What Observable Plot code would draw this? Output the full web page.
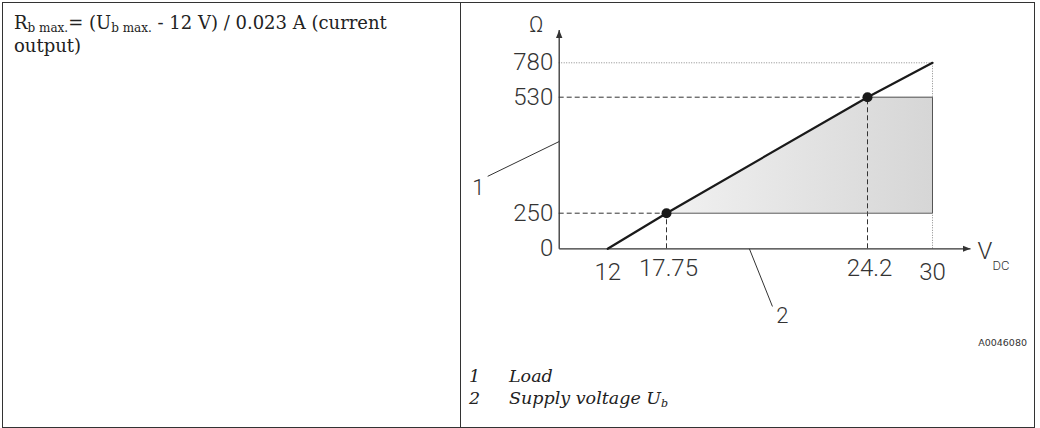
<!DOCTYPE html>
<html><head><meta charset="utf-8">
<script src="https://cdn.jsdelivr.net/npm/d3@7"></script>
<script src="https://cdn.jsdelivr.net/npm/@observablehq/plot@0.6"></script>
<style>
html,body{margin:0;padding:0;background:#fff;}
#page{position:relative;width:1040px;height:428px;overflow:hidden;background:#fff;}
#frame{position:absolute;left:2px;top:2px;width:1033px;height:426px;border:1px solid #333;box-sizing:border-box;}
#divider{position:absolute;left:460px;top:2px;width:1px;height:426px;background:#333;}
#formula{position:absolute;left:14px;top:11px;font-family:"DejaVu Serif";font-size:18px;line-height:23px;color:#222;}
#formula sub{font-size:12px;line-height:0;vertical-align:-3px;}
#chart{position:absolute;left:462px;top:0px;}
#code{position:absolute;right:13px;top:337px;font-family:"DejaVu Sans";font-size:9.5px;color:#333;}
.leg{position:absolute;font-family:"DejaVu Serif";font-style:italic;font-size:17.5px;color:#222;line-height:22px;}
.leg sub{font-size:11px;line-height:0;vertical-align:-3px;}
</style>
</head><body>
<div id="page">
  <div id="frame"></div>
  <div id="divider"></div>
  <div id="formula">R<sub>b max.</sub>= (U<sub>b max.</sub> - 12 V) / 0.023 A (current<br>output)</div>
  <div id="chart"></div>
  <div id="code">A0046080</div>
  <div class="leg" style="left:469px;top:365px;">1</div>
  <div class="leg" style="left:509px;top:365px;">Load</div>
  <div class="leg" style="left:469px;top:387px;">2</div>
  <div class="leg" style="left:509px;top:387px;">Supply voltage U<sub>b</sub></div>
</div>
<script>
// ---- data ----
const loadVoltage = [12, 17.75, 24.2, 30];        // V DC
const loadOhm     = [0, 250, 530, 780];           // Ω
const opVoltage   = [17.75, 24.2];                // marked operating points
const opOhm       = [250, 530];
const shadeVoltage = [17.75, 24.2, 30];
const shadeTopOhm  = [250, 530, 530];
const shadeBaseOhm = 250;
const maxVoltage = 30;
const maxOhm = 780;
const xTicksLow  = [12, 30];
const xTicksHigh = [17.75, 24.2];
const yTicks     = [0, 250, 530, 780];
const xAxisEnd = 33;
const yAxisEnd = 900;
const callouts = [
  {label: "1", lx: -20, ly: 312, x1: -17.7, y1: 339, x2: 0, y2: 423},
  {label: "2", lx: 21.47, ly: -475, x1: 20.41, y1: 0, x2: 21.15, y2: -405}
];
const xName = "V", xSub = "DC", yName = "Ω";

// ---- derived tables ----
const load = loadVoltage.map((v, i) => ({v, r: loadOhm[i]}));
const ops = opVoltage.map((v, i) => ({v, r: opOhm[i]}));
const shade = shadeVoltage.map((v, i) => ({v, lo: shadeBaseOhm, hi: shadeTopOhm[i]}));
const edge = [{v: opVoltage[1], r: opOhm[1]}, {v: maxVoltage, r: opOhm[1]}, {v: maxVoltage, r: opOhm[0]}, {v: opVoltage[0], r: opOhm[0]}];
const axes = [{x1: 0, y1: 0, x2: xAxisEnd, y2: 0}, {x1: 0, y1: 0, x2: 0, y2: yAxisEnd}];

const numFont = "Roboto";
const chart = Plot.plot({
  width: 572, height: 330,
  marginTop: 0, marginRight: 0, marginBottom: 0, marginLeft: 0,
  style: {background: "transparent", overflow: "visible", fontFamily: numFont},
  x: {type: "linear", domain: [0, 12, 17.75, 24.2, 30, xAxisEnd], range: [96.7, 145.2, 204, 405, 470, 508], axis: null},
  y: {type: "linear", domain: [0, 250, 530, 780, yAxisEnd], range: [248.3, 212.7, 96.7, 62.3, 29.5], axis: null},
  marks: [
    Plot.areaY(shade, {x: "v", y1: "lo", y2: "hi", fill: "#dddddd", curve: "linear"}),
    // dotted guides
    Plot.ruleY([maxOhm], {x1: () => 0, x2: () => maxVoltage, stroke: "#8a8a8a", strokeWidth: 1, strokeDasharray: "1,1.5"}),
    Plot.ruleX([maxVoltage], {y1: () => opOhm[1], y2: () => maxOhm, stroke: "#8a8a8a", strokeWidth: 1, strokeDasharray: "1,1.5"}),
    Plot.ruleX([maxVoltage], {y1: () => 0, y2: () => opOhm[0], stroke: "#8a8a8a", strokeWidth: 1, strokeDasharray: "1,1.5"}),
    // dashed guides
    Plot.ruleY(ops, {y: "r", x1: () => 0, x2: "v", stroke: "#333", strokeWidth: 1, strokeDasharray: "5,3"}),
    Plot.ruleX(ops, {x: "v", y1: () => 0, y2: "r", stroke: "#333", strokeWidth: 1, strokeDasharray: "5,3"}),
    // shaded edges
    Plot.line(edge, {x: "v", y: "r", stroke: "#555", strokeWidth: 1}),
    // axes
    Plot.link(axes, {x1: "x1", y1: "y1", x2: "x2", y2: "y2", stroke: "#333", strokeWidth: 1.3}),
    // load line
    Plot.line(load, {x: "v", y: "r", stroke: "#1a1a1a", strokeWidth: 2.2}),
    Plot.dot(ops, {x: "v", y: "r", r: 5, fill: "#1a1a1a", stroke: "none"}),
    // tick labels
    Plot.text(yTicks, {x: () => 0, y: d => d, text: d => String(d), textAnchor: "end", dx: -6, fontSize: 24, fontWeight: 300, fill: "#333"}),
    Plot.text(xTicksLow, {x: d => d, y: () => 0, text: d => String(d), dy: 24, fontSize: 24, fontWeight: 300, fill: "#333"}),
    Plot.text(xTicksHigh, {x: d => d, y: () => 0, text: d => String(d), dx: 2, dy: 20, fontSize: 24, fontWeight: 300, fill: "#333"}),
    Plot.text([yName], {x: () => 0, y: () => yAxisEnd, text: d => d, dx: -23, dy: -5, fontSize: 22, fontWeight: 300, fill: "#333"}),
    Plot.text([xName], {x: () => xAxisEnd, y: () => 0, text: d => d, textAnchor: "start", dx: 7, dy: 3, fontSize: 24, fontWeight: 300, fill: "#333"}),
    Plot.text([xSub], {x: () => xAxisEnd, y: () => 0, text: d => d, textAnchor: "start", dx: 22, dy: 17, fontSize: 13, fontWeight: 300, fill: "#333"}),
    // callouts
    Plot.link(callouts, {x1: "x1", y1: "y1", x2: "x2", y2: "y2", stroke: "#333", strokeWidth: 1}),
    Plot.text(callouts, {x: "lx", y: "ly", text: "label", fontSize: 22, fontWeight: 300, fill: "#333"})
  ]
});

// gradient + arrowheads (styling)
const svg = d3.select(chart);
const defs = svg.insert("defs", ":first-child");
const g = defs.append("linearGradient").attr("id", "shadeGrad").attr("x1", "0").attr("x2", "1").attr("y1", "0").attr("y2", "0");
g.append("stop").attr("offset", "0").attr("stop-color", "#f1f1f1");
g.append("stop").attr("offset", "1").attr("stop-color", "#d6d6d6");
defs.append("marker").attr("id", "tri").attr("viewBox", "0 0 10 10").attr("refX", 10).attr("refY", 5)
  .attr("markerWidth", 8).attr("markerHeight", 8).attr("markerUnits", "userSpaceOnUse").attr("orient", "auto")
  .append("path").attr("d", "M0,1L10,5L0,9z").attr("fill", "#333");
svg.selectAll('g[aria-label="area"] path').attr("fill", "url(#shadeGrad)");
svg.select('g[aria-label="link"]').selectAll("path").attr("marker-end", "url(#tri)");
document.getElementById("chart").appendChild(chart);
</script>
</body></html>
